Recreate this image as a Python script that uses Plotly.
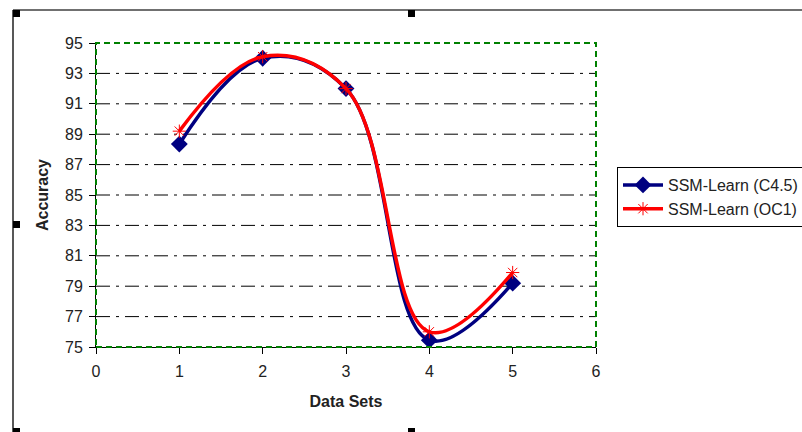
import plotly.graph_objects as go

datasets = [1, 2, 3, 4, 5]
c45 = [88.35, 94.0, 92.0, 75.45, 79.2]
oc1 = [89.2, 94.1, 92.0, 76.0, 79.9]
y_ticks = list(range(75, 96, 2))
x_ticks = list(range(0, 7))

W, H = 802, 432
L, R, T, B = 96, 206, 43, 85
pw, ph = W - L - R, H - T - B

def px(x):
    return (x - L) / pw

def py(y):
    return (H - B - y) / ph

fig = go.Figure()
fig.add_trace(go.Scatter(
    x=datasets, y=c45, name="SSM-Learn (C4.5)", mode="lines+markers",
    line=dict(color="#000080", width=3.5, shape="spline", smoothing=1.1),
    marker=dict(symbol="diamond", size=13, color="#000080"),
))
fig.add_trace(go.Scatter(
    x=datasets, y=oc1, name="SSM-Learn (OC1)", mode="lines+markers",
    line=dict(color="#ff0000", width=3.5, shape="spline", smoothing=1.1),
    marker=dict(symbol="asterisk-open", size=11, color="#ff0000",
                line=dict(color="#ff0000", width=1)),
))

shapes = []
# horizontal dash-dot grid lines from tick values (excluding the frame edges)
for v in y_ticks[1:-1]:
    shapes.append(dict(type="line", xref="x", yref="y", x0=0, x1=6, y0=v, y1=v,
                       line=dict(color="black", width=1, dash="14px,6px,3px,6px"),
                       layer="below"))
# green dashed plot frame
shapes.append(dict(type="rect", xref="paper", yref="paper", x0=0, x1=1, y0=0, y1=1,
                   line=dict(color="#008000", width=2, dash="6px,4px"), layer="above"))
# outer chart border
shapes.append(dict(type="line", xref="paper", yref="paper", x0=px(13), x1=px(802),
                   y0=py(10), y1=py(10), line=dict(color="#404040", width=1.5)))
shapes.append(dict(type="line", xref="paper", yref="paper", x0=px(13), x1=px(13),
                   y0=py(10), y1=py(432), line=dict(color="#202020", width=1.5)))
# selection handles
for (hx, hy) in [(13, 10), (408, 10), (13, 221), (13, 428), (408, 428)]:
    shapes.append(dict(type="rect", xref="paper", yref="paper",
                       x0=px(hx), x1=px(hx + 7), y0=py(hy), y1=py(hy + 7),
                       line=dict(width=0), fillcolor="black"))

fig.update_layout(
    width=W, height=H,
    margin=dict(l=L, r=R, t=T, b=B, autoexpand=False),
    paper_bgcolor="white", plot_bgcolor="white",
    font=dict(family="Liberation Sans, Arial, sans-serif", size=16, color="#222222"),
    shapes=shapes,
    showlegend=True,
    legend=dict(x=px(617), y=py(167), xanchor="left", yanchor="top",
                bordercolor="black", borderwidth=1, bgcolor="white",
                font=dict(size=16, color="#222222"),
                itemwidth=40, tracegroupgap=0),
    xaxis=dict(range=[0, 6], tickvals=x_ticks, showgrid=False, zeroline=False,
               showline=True, linecolor="black", linewidth=1,
               ticks="outside", ticklen=6, tickcolor="black", ticklabelstandoff=4,
               title=dict(text="<b>Data Sets</b>", standoff=16, font=dict(size=16, color="#222222"))),
    yaxis=dict(range=[75, 95], tickvals=y_ticks, showgrid=False, zeroline=False,
               showline=True, linecolor="black", linewidth=1,
               ticks="outside", ticklen=6, tickcolor="black", ticklabelstandoff=3,
               title=dict(text="<b>Accuracy</b>", standoff=12, font=dict(size=16, color="#222222"))),
)

fig.write_html("out.html")
